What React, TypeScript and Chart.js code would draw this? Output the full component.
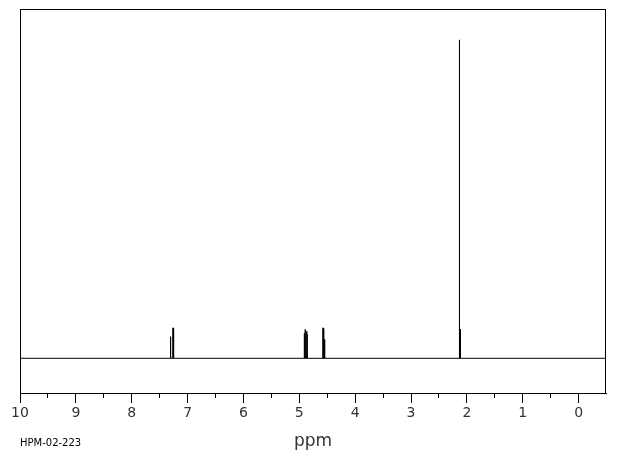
import React, { useEffect, useRef } from "react";
import { Chart, registerables } from "chart.js";

Chart.register(...registerables);

// Peak positions (ppm) and relative intensities (tallest = 100)
const peakPpm = [7.31, 7.3, 7.262, 7.25, 4.909, 4.894, 4.866, 4.86, 4.577, 4.563, 4.546, 2.133, 2.115];
const peakHeight = [6.8, 6.2, 9.6, 9.4, 7.9, 9.1, 8.5, 7.5, 9.6, 9.4, 6.0, 100, 9.2];
const axisMaxPpm = 10;
const axisMinPpm = -0.49;
const tickValues = [10, 9.5, 9, 8.5, 8, 7.5, 7, 6.5, 6, 5.5, 5, 4.5, 4, 3.5, 3, 2.5, 2, 1.5, 1, 0.5, 0];
const tickLabels = ["10", "9", "8", "7", "6", "5", "4", "3", "2", "1", "0"];
const xTitle = "ppm";
const sampleId = "HPM-02-223";

export default function App() {
  const ref = useRef<HTMLCanvasElement | null>(null);

  useEffect(() => {
    if (!ref.current) return;
    const order = peakPpm.map((p, i) => i).sort((a, b) => peakPpm[b] - peakPpm[a]);
    const pts: { x: number; y: number }[] = [{ x: axisMaxPpm, y: 0 }];
    order.forEach((i) => {
      pts.push({ x: peakPpm[i], y: 0 });
      pts.push({ x: peakPpm[i], y: peakHeight[i] });
      pts.push({ x: peakPpm[i], y: 0 });
    });
    pts.push({ x: axisMinPpm, y: 0 });

    const framePlugin = {
      id: "frame",
      afterDraw(chart: any) {
        const { ctx, chartArea } = chart;
        ctx.save();
        ctx.strokeStyle = "#000";
        ctx.lineWidth = 1;
        ctx.strokeRect(
          Math.round(chartArea.left) + 0.5,
          Math.round(chartArea.top) + 0.5,
          Math.round(chartArea.right - chartArea.left) - 1,
          Math.round(chartArea.bottom - chartArea.top)
        );
        ctx.fillStyle = "#000";
        ctx.font = "10px 'DejaVu Sans'";
        ctx.textBaseline = "middle";
        ctx.textAlign = "left";
        ctx.fillText(sampleId, 20, 443);
        ctx.restore();
      },
    };

    const chart = new Chart(ref.current, {
      type: "line",
      data: {
        datasets: [
          {
            data: pts,
            borderColor: "#000",
            borderWidth: 1,
            pointRadius: 0,
            tension: 0,
            fill: false,
          },
        ],
      },
      options: {
        animation: false,
        responsive: false,
        parsing: false as any,
        layout: { padding: { left: 20, right: 14, top: 9, bottom: 0 } },
        plugins: { legend: { display: false }, tooltip: { enabled: false } },
        scales: {
          x: {
            type: "linear",
            reverse: true,
            min: axisMinPpm,
            max: axisMaxPpm,
            afterBuildTicks: (s: any) => {
              s.ticks = tickValues.map((v) => ({ value: v }));
            },
            afterFit: (s: any) => {
              s.height = 62;
            },
            grid: {
              drawOnChartArea: false,
              drawTicks: true,
              tickLength: 10,
              tickColor: "#000",
              tickWidth: 1,
              tickBorderDash: (c: any) => (c.tick && Number.isInteger(c.tick.value) ? [] : [4, 100]),
            } as any,
            border: { display: true, color: "#000", width: 1 },
            ticks: {
              autoSkip: false,
              maxRotation: 0,
              color: "#333",
              padding: 2,
              font: { family: "'DejaVu Sans'", size: 14 },
              callback: (v: any) => {
                const n = Number(v);
                if (!Number.isInteger(n)) return "";
                return tickLabels[10 - n];
              },
            },
            title: {
              display: true,
              text: xTitle,
              color: "#333",
              font: { family: "'DejaVu Sans'", size: 17 },
              padding: { top: 0, bottom: 3 },
            },
          },
          y: {
            display: false,
            min: -10.9,
            max: 109.7,
          },
        },
      },
      plugins: [framePlugin],
    });
    return () => chart.destroy();
  }, []);

  return (
    <div style={{ position: "fixed", left: 0, top: 0, width: 620, height: 455, background: "#fff" }}>
      <canvas ref={ref} width={620} height={455} style={{ display: "block" }} />
    </div>
  );
}
